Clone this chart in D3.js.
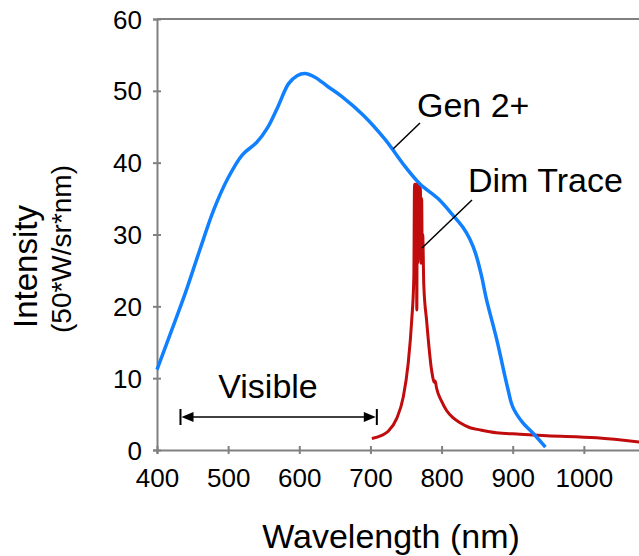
<!DOCTYPE html>
<meta charset="utf-8">
<style>
body { margin: 0; background: #fff; }
svg { display: block; font-family: "Liberation Sans", Arial, sans-serif; }
.axis path, .axis line { stroke: #808080; stroke-width: 2; }
.axis text { fill: #000; font-size: 26px; font-family: "Liberation Sans", Arial, sans-serif; }
.note { fill: #000; font-size: 34px; }
.leader { stroke: #000; stroke-width: 1.5; }
</style>
<svg class="canvas"></svg>
<script src="https://cdn.jsdelivr.net/npm/d3@7"></script>
<script>

// Gen 2+ spectrum: wavelength (nm), intensity
var gen2Nm  = [400, 420, 440, 460, 480, 500, 520, 540, 555, 570, 585, 597, 608, 622, 640, 660, 690, 720, 750, 770, 795, 815, 830, 840, 848, 856, 863, 877, 893, 900, 914, 928, 946];
var gen2Val = [11.2, 16.5, 21.9, 27.8, 33.5, 37.9, 41.1, 42.8, 44.8, 47.8, 51.0, 52.1, 52.4, 51.9, 50.6, 49.2, 46.6, 43.3, 39.3, 37.0, 35.0, 32.8, 31.0, 29.3, 27.3, 24.3, 21.0, 15.6, 8.6, 6.0, 3.8, 2.4, 0.4];

// Dim Trace spectrum
var dimNm  = [702, 715, 725, 737, 746, 753, 758, 761, 762, 762.7, 763.3, 764, 764.6, 765.2, 765.8, 766.5, 767.2, 768, 768.7, 769.4, 770.2, 771, 772, 772.8, 773.5, 775, 779, 786, 790, 791, 793, 800, 807, 816, 826, 840, 854, 877, 910, 948, 1018, 1080];
var dimVal = [1.6, 2.0, 2.6, 4.4, 7.3, 12.0, 18.0, 24.0, 37.0, 29.0, 37.0, 27.0, 37.0, 19.5, 37.0, 26.0, 37.0, 28.0, 37.0, 27.0, 36.5, 26.0, 35.0, 27.0, 30.0, 23.0, 18.0, 11.1, 9.4, 9.6, 8.6, 6.8, 5.5, 4.5, 3.8, 3.1, 2.8, 2.4, 2.2, 2.0, 1.7, 1.1];

var xTicks = [400, 500, 600, 700, 800, 900, 1000];
var yTicks = [0, 10, 20, 30, 40, 50, 60];
var visibleRange = [433, 709];

var width = 639,
	height = 556;

var X0 = 157, X1 = 655, Y0 = 450, Y1 = 19;

var svg = d3.select(".canvas")
	.attr("width", width)
	.attr("height", height);

var x = d3.scaleLinear().domain([400, 1100]).range([X0, X1]);
var y = d3.scaleLinear().domain([0, 60]).range([Y0, Y1]);

// top border of plot area
svg.append("line")
	.attr("x1", X0).attr("x2", width)
	.attr("y1", Y1).attr("y2", Y1)
	.attr("stroke", "#808080").attr("stroke-width", 2);

var xAxis = svg.append("g")
	.attr("class", "axis")
	.attr("transform", "translate(0," + Y0 + ")")
	.call(d3.axisBottom(x).tickValues(xTicks).tickFormat(d3.format("d")).tickSizeOuter(0).tickSize(4));
xAxis.selectAll(".tick line").attr("y1", -4).attr("y2", 4);
xAxis.selectAll(".tick text").attr("dy", null).attr("y", 37);

var yAxis = svg.append("g")
	.attr("class", "axis")
	.attr("transform", "translate(" + X0 + ",0)")
	.call(d3.axisLeft(y).tickValues(yTicks).tickSizeOuter(0).tickSize(4));
yAxis.selectAll(".tick line").attr("x1", -4).attr("x2", 4);
yAxis.selectAll(".tick text").attr("x", -15).attr("dy", "0.35em");
xAxis.selectAll(".domain, .tick line").attr("stroke", "#808080");
yAxis.selectAll(".domain, .tick line").attr("stroke", "#808080");

svg.append("clipPath").attr("id", "plot")
	.append("rect").attr("x", X0).attr("y", 0).attr("width", width - X0).attr("height", Y0 + 5);

var line = d3.line()
	.x(function(d) { return x(d[0]); })
	.y(function(d) { return y(d[1]); });

svg.append("path")
	.datum(d3.zip(dimNm, dimVal))
	.attr("clip-path", "url(#plot)")
	.attr("fill", "none")
	.attr("stroke", "#c00c0c")
	.attr("stroke-width", 3)
	.attr("stroke-linejoin", "round")
	.attr("d", line.curve(d3.curveMonotoneX));

svg.append("path")
	.datum(d3.zip(gen2Nm, gen2Val))
	.attr("fill", "none")
	.attr("stroke", "#1080ff")
	.attr("stroke-width", 3.5)
	.attr("stroke-linejoin", "round")
	.attr("d", line.curve(d3.curveCatmullRom.alpha(0.5)));

// labels with leader lines
svg.append("text").attr("class", "note").attr("x", 417).attr("y", 117).text("Gen 2+");
svg.append("line").attr("class", "leader").attr("x1", 420).attr("y1", 123).attr("x2", 393).attr("y2", 149);
svg.append("text").attr("class", "note").attr("x", 468).attr("y", 192).text("Dim Trace");
svg.append("line").attr("class", "leader").attr("x1", 472).attr("y1", 200).attr("x2", 422).attr("y2", 248);

// visible band arrow
var ay = 417, ax0 = x(visibleRange[0]), ax1 = x(visibleRange[1]);
svg.append("text").attr("class", "note").attr("font-size", 30)
	.attr("x", 268).attr("y", 398).attr("text-anchor", "middle").text("Visible");
svg.append("line").attr("stroke", "#000").attr("stroke-width", 1.5)
	.attr("x1", ax0 + 8).attr("x2", ax1 - 8).attr("y1", ay).attr("y2", ay);
[ax0, ax1].forEach(function(p, i) {
	var dir = i === 0 ? 1 : -1;
	svg.append("line").attr("stroke", "#000").attr("stroke-width", 2)
		.attr("x1", p).attr("x2", p).attr("y1", ay - 8).attr("y2", ay + 8);
	svg.append("path").attr("fill", "#000")
		.attr("d", "M" + (p + dir * 1) + "," + ay + "L" + (p + dir * 13) + "," + (ay - 5) + "L" + (p + dir * 13) + "," + (ay + 5) + "Z");
});

// axis titles
svg.append("text").attr("x", 391).attr("y", 548).attr("text-anchor", "middle")
	.attr("font-size", 34).text("Wavelength (nm)");
svg.append("text").attr("transform", "translate(37,328) rotate(-90)")
	.attr("font-size", 33).text("Intensity");
svg.append("text").attr("transform", "translate(71,333) rotate(-90)")
	.attr("font-size", 28).text("(50*W/sr*nm)");

</script>
